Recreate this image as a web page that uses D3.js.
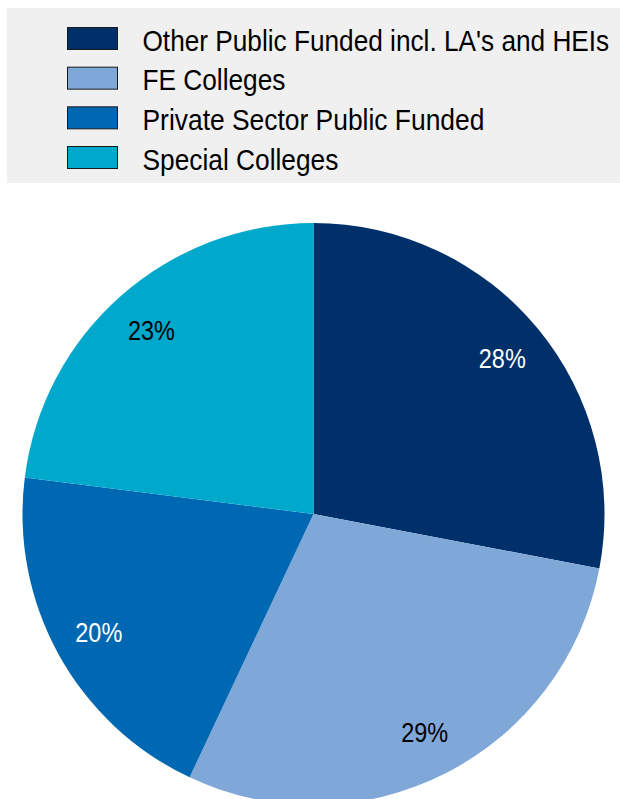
<!DOCTYPE html>
<html>
<head>
<meta charset="utf-8">
<script src="https://cdn.jsdelivr.net/npm/d3@7/dist/d3.min.js"></script>
<style>
  html, body { margin: 0; padding: 0; background: #ffffff; }
  svg { display: block; }
  text { font-family: "Liberation Sans Narrow", "Liberation Sans", Arial, sans-serif; }
</style>
</head>
<body>
<svg id="chart" width="620" height="799"></svg>
<script>
// Share of learners by provider type (percent)
const categories = [
  "Other Public Funded incl. LA's and HEIs",
  "FE Colleges",
  "Private Sector Public Funded",
  "Special Colleges"
];
const values = [28, 29, 20, 23];
const colors = ["#00306a", "#7fa7d8", "#0067b3", "#00a9cc"];
const labelColors = ["#ffffff", "#000000", "#ffffff", "#000000"];
// rendered widths for the condensed legend text
const legendWidths = [467, 143, 342, 196];

const svg = d3.select("#chart");

// squeeze a text horizontally so it spans the given width
function fitWidth(sel, widthOf) {
  sel.each(function (d, i) {
    const t = d3.select(this);
    const natural = this.getComputedTextLength();
    const sx = widthOf(d, i) / natural;
    const x = +t.attr("x");
    t.attr("transform", `translate(${x},0) scale(${sx},1) translate(${-x},0)`);
  });
}

// ---- legend ----
const legend = svg.append("g");
legend.append("rect")
  .attr("x", 7).attr("y", 8)
  .attr("width", 613).attr("height", 175)
  .attr("fill", "#f0f0f0");

const rowY = d3.scalePoint().domain(d3.range(categories.length)).range([27, 146]);
const items = legend.selectAll("g.item")
  .data(categories)
  .join("g")
  .attr("class", "item")
  .attr("transform", (d, i) => `translate(0,${rowY(i)})`);

items.append("rect")
  .attr("x", 67.5).attr("y", 0.5)
  .attr("width", 50).attr("height", 22)
  .attr("fill", (d, i) => colors[i])
  .attr("stroke", "#1a1a1a")
  .attr("stroke-width", 1);

items.append("text")
  .attr("x", 142.5).attr("y", 23.5)
  .attr("font-size", 30)
  .attr("fill", "#000")
  .text(d => d)
  .call(fitWidth, (d, i) => legendWidths[i]);

// ---- pie ----
const cx = 313.5, cy = 514, radius = 291;
const pie = d3.pie().sort(null).value(d => d)
  .startAngle(0).endAngle(2 * Math.PI);
const arcs = pie(values);

const arc = d3.arc().innerRadius(0).outerRadius(radius);
const labelArc = d3.arc().innerRadius(245).outerRadius(245);

const g = svg.append("g").attr("transform", `translate(${cx},${cy})`);

g.selectAll("path")
  .data(arcs)
  .join("path")
  .attr("d", arc)
  .attr("fill", (d, i) => colors[i]);

const pctLabels = g.selectAll("g.pct")
  .data(arcs)
  .join("g")
  .attr("class", "pct")
  .attr("transform", d => {
    const [x, y] = labelArc.centroid(d);
    return `translate(${x},${y})`;
  });

pctLabels.append("text")
  .attr("x", 0)
  .attr("text-anchor", "middle")
  .attr("dy", "0.36em")
  .attr("font-size", 28)
  .attr("fill", (d, i) => labelColors[i])
  .text(d => d.data + "%")
  .call(fitWidth, () => 47);
</script>
</body>
</html>
